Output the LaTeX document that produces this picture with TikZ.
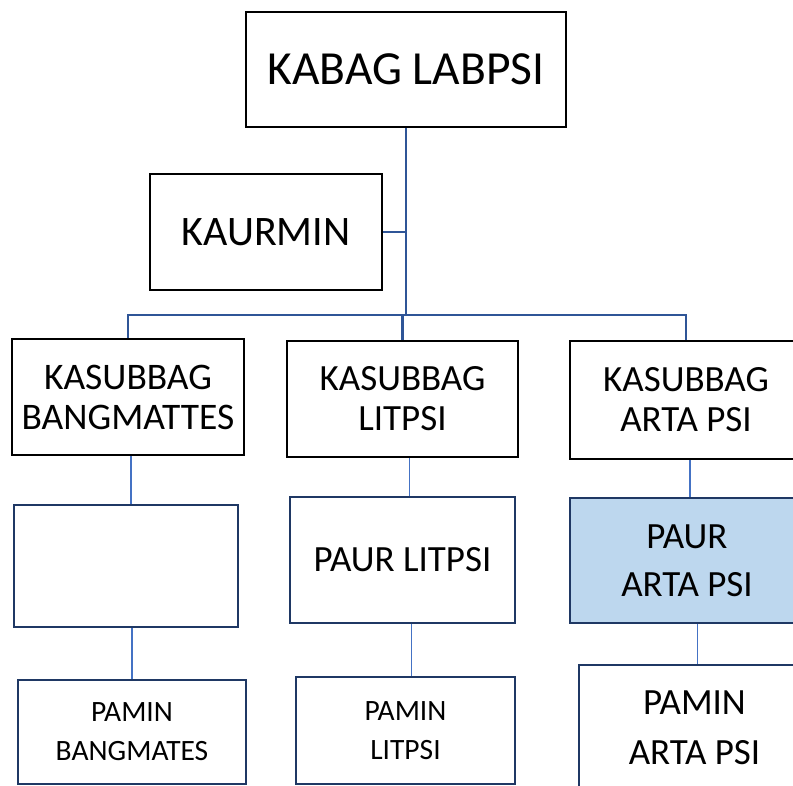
\documentclass[tikz,border=0pt]{standalone}
\usepackage{fontspec}
\setmainfont{Carlito}
\definecolor{busblue}{RGB}{47,85,151}
\definecolor{linkblue}{RGB}{68,114,196}
\definecolor{navy}{RGB}{31,56,100}
\definecolor{paleblue}{RGB}{189,215,238}

\begin{document}
\begin{tikzpicture}[
    x=1pt, y=-1pt,
    head/.style={draw=black, line width=2pt, rectangle, fill=white, inner sep=0pt, align=center},
    unit/.style={draw=navy, line width=2.5pt, rectangle, fill=white, inner sep=0pt, align=center},
    bus/.style={draw=busblue, line width=2.5pt},
    link/.style={draw=linkblue, line width=1.3pt}
]
    \useasboundingbox (0,0) rectangle (793,785);
    \clip (0,0) rectangle (793,785);

    % Nodes
    \node[head, minimum width=320pt, minimum height=115pt, font=\fontsize{47.5}{50}\selectfont] (kabag) at (406,69.5) {KABAG LABPSI};
    \node[head, minimum width=232pt, minimum height=116pt, font=\fontsize{42}{46}\selectfont] (kaurmin) at (266,232) {KAURMIN};

    \node[head, minimum width=232pt, minimum height=116pt, font=\fontsize{37.5}{40}\selectfont] (sub1) at (128,397) {KASUBBAG\\BANGMATTES};
    \node[head, minimum width=231pt, minimum height=116pt, font=\fontsize{37}{40}\selectfont] (sub2) at (402.5,399) {KASUBBAG\\LITPSI};
    \node[head, minimum width=232pt, minimum height=118pt, font=\fontsize{37}{40}\selectfont] (sub3) at (686,400) {KASUBBAG\\ARTA PSI};

    \node[unit, minimum width=224pt, minimum height=122pt] (blank1) at (126,566) {};
    \node[unit, minimum width=225pt, minimum height=126pt, font=\fontsize{37}{48}\selectfont] (paur2) at (402.5,560) {PAUR LITPSI};
    \node[unit, fill=paleblue, minimum width=234pt, minimum height=125pt, font=\fontsize{37}{48}\selectfont] (paur3) at (687,560.5) {PAUR\\ARTA PSI};

    \node[unit, minimum width=228pt, minimum height=104pt, font=\fontsize{29.5}{39}\selectfont] (pamin1) at (132,732) {PAMIN\\BANGMATES};
    \node[unit, minimum width=219pt, minimum height=107pt, font=\fontsize{29.5}{39}\selectfont] (pamin2) at (405.5,730.5) {PAMIN\\LITPSI};
    \node[unit, minimum width=231pt, minimum height=125pt, font=\fontsize{37}{50}\selectfont] (pamin3) at (694.5,727.5) {PAMIN\\ARTA PSI};

    \coordinate (fork) at (406,315);

    % Connectors
    \draw[bus] (kabag.south) -- (fork);
    \draw[bus] (kaurmin.east) -- (kaurmin.east -| fork);
    \draw[bus] (sub1.north) |- (fork) -| (sub3.north);
    \draw[bus] (sub2.north) -- (sub2.north |- fork);

    \draw[link] ([xshift=3pt]sub1.south) -- ([xshift=3pt]sub1.south |- blank1.north);
    \draw[link] (pamin1.north) -- (pamin1.north |- blank1.south);
    \draw[link] ([xshift=7pt]sub2.south) -- ([xshift=7pt]sub2.south |- paur2.north);
    \draw[link] ([xshift=6pt]pamin2.north) -- ([xshift=6pt]pamin2.north |- paur2.south);
    \draw[link] ([xshift=4pt]sub3.south) -- ([xshift=4pt]sub3.south |- paur3.north);
    \draw[link] ([xshift=3pt]pamin3.north) -- ([xshift=3pt]pamin3.north |- paur3.south);
\end{tikzpicture}
\end{document}
